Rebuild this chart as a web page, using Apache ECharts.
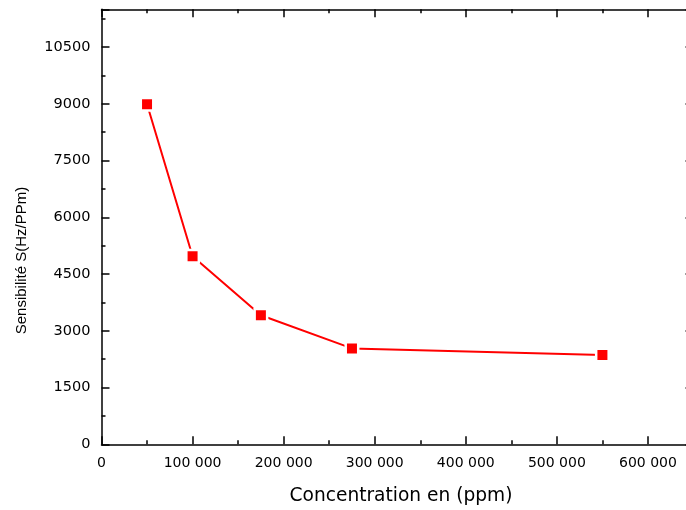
<!DOCTYPE html>
<html>
<head>
<meta charset="utf-8">
<script src="https://cdn.jsdelivr.net/npm/echarts@6/dist/echarts.min.js"></script>
<style>
html,body{margin:0;padding:0;background:#fff;}
#chart{width:686px;height:510px;}
</style>
</head>
<body>
<div id="chart"></div>
<script>
const concentration = [50000, 100000, 175000, 275000, 550000];
const sensibilite = [8990, 4970, 3410, 2535, 2360];
const xTitle = 'Concentration en (ppm)';
const yTitle = 'Sensibilité S(Hz/PPm)';

const chart = echarts.init(document.getElementById('chart'), null, {renderer: 'canvas'});

const lineStyle = {color: '#000', width: 1.5};
function xAxisCfg(pos, showLabels) {
  return {
    type: 'value', position: pos, gridIndex: 0,
    min: 0, max: 650000, interval: 100000,
    axisLine: {show: true, onZero: false, lineStyle: lineStyle},
    axisTick: {show: true, inside: true, length: 8, lineStyle: lineStyle},
    minorTick: {show: true, splitNumber: 2, length: 4, lineStyle: lineStyle},
    splitLine: {show: false},
    axisLabel: {
      show: showLabels, color: '#000', fontFamily: 'DejaVu Sans', fontSize: 14, margin: 12,
      showMaxLabel: false,
      formatter: v => v === 0 ? '0' : (v / 1000) + ' 000'
    }
  };
}
function yAxisCfg(pos, showLabels) {
  return {
    type: 'value', position: pos, gridIndex: 0,
    min: 0, max: 11500, interval: 1500,
    axisLine: {show: true, onZero: false, lineStyle: lineStyle},
    axisTick: {show: true, inside: true, length: 8, lineStyle: lineStyle},
    minorTick: {show: true, splitNumber: 2, length: 4, lineStyle: lineStyle},
    splitLine: {show: false},
    axisLabel: {
      show: showLabels, color: '#000', fontFamily: 'DejaVu Sans', fontSize: 14.5, margin: 11,
      showMaxLabel: false,
      formatter: v => String(v)
    }
  };
}

chart.setOption({
  animation: false,
  backgroundColor: '#fff',
  grid: {left: 101.5, top: 9.3, width: 592, height: 435, containLabel: false, outerBoundsMode: 'none'},
  xAxis: [xAxisCfg('bottom', true), xAxisCfg('top', false)],
  yAxis: [yAxisCfg('left', true), yAxisCfg('right', false)],
  series: [{
    type: 'line',
    xAxisIndex: 0, yAxisIndex: 0,
    data: concentration.map((c, i) => [c, sensibilite[i]]),
    symbol: 'rect',
    symbolSize: 12.5,
    showAllSymbol: true,
    lineStyle: {color: '#ff0000', width: 2},
    itemStyle: {color: '#ff0000', borderColor: '#fff', borderWidth: 2.5}
  }],
  graphic: [
    {type: 'text', x: 401, y: 496, style: {text: xTitle, fill: '#000', font: '18.6px "DejaVu Sans"', align: 'center', verticalAlign: 'middle'}},
    {type: 'text', x: 22, y: 260.5, rotation: Math.PI / 2, style: {text: yTitle, fill: '#000', font: '15px "Liberation Sans"', align: 'center', verticalAlign: 'middle'}}
  ]
});
</script>
</body>
</html>
